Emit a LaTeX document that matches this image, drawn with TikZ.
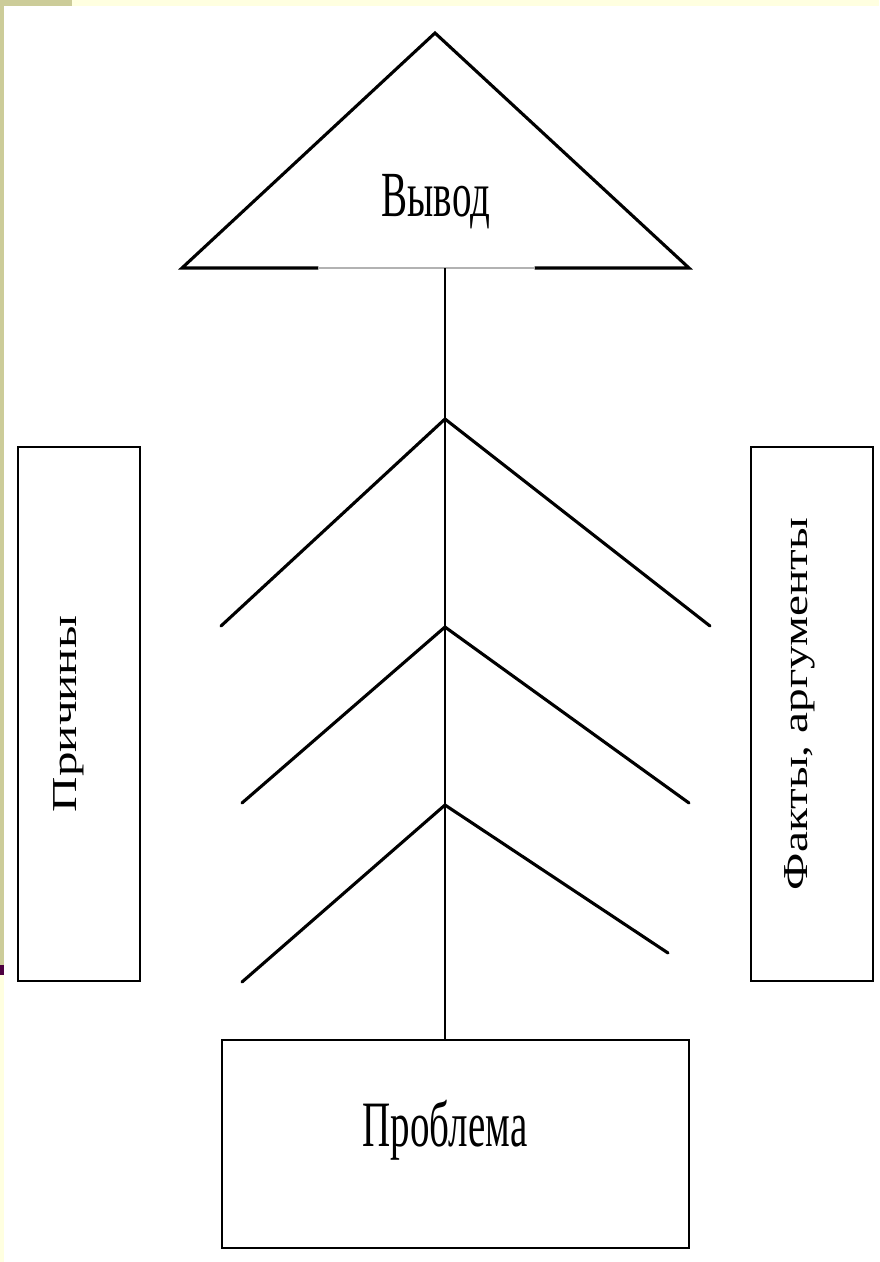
\documentclass[tikz,border=0pt]{standalone}
\usepackage{fontspec}
\setmainfont{Liberation Serif}
\usepackage{graphicx}
\definecolor{olive}{RGB}{204,204,153}
\definecolor{cream}{RGB}{255,255,224}
\definecolor{plum}{RGB}{77,0,64}
\tikzset{
    box/.style={draw=black, line width=2.9pt, inner sep=0pt},
    branch/.style={black, line width=3.1pt, line cap=round},
    word/.style={inner sep=0pt, font=\fontsize{39}{39}\selectfont},
    sideword/.style={inner sep=0pt, font=\fontsize{35}{35}\selectfont}
}
\begin{document}
\begin{tikzpicture}[x=1pt, y=-1pt]
        \useasboundingbox (0,0) rectangle (879,1262);
        % slide frame
        \fill[white] (0,0) rectangle (879,1262);
        \fill[cream] (72,0) rectangle (879,6);
        \fill[olive] (0,0) rectangle (72,6);
        \fill[olive] (0,0) rectangle (4,965);
        \fill[plum] (0,965) rectangle (4,975);
        \fill[cream] (0,975) rectangle (4,1262);
        % triangle
        \coordinate (top) at (435,33);
        \coordinate (bl) at (182,268);
        \coordinate (br) at (689,268);
        \coordinate (base) at (445,268);
        \draw[branch, line join=miter] (318,268) -- (bl) -- (top) -- (br) -- (535,268);
        \draw[gray!60, line width=2pt] (318,268) -- (535,268);
        \node[word] (conclusion) at (436,202) {\scalebox{1}[1.65]{Вывод}};
        % boxes
        \node[box, minimum width=122pt, minimum height=534pt] (causes) at (79,714) {};
        \node[box, minimum width=122pt, minimum height=534pt] (facts) at (812,714) {};
        \node[box, minimum width=467pt, minimum height=208pt] (problem) at (455.5,1144) {};
        \node[sideword] (causestext) at (69,714) {\rotatebox{90}{\scalebox{1.4}[1]{Причины}}};
        \node[sideword] (factstext) at (800,704) {\rotatebox{90}{\scalebox{1.35}[1]{Факты, аргументы}}};
        \node[word] (problemtext) at (445,1130) {\scalebox{1}[1.66]{Проблема}};
        % stem
        \draw[black, line width=2.2pt] (base) -- (base |- problem.north);
        % branches
        \foreach \ya/\xl/\yl/\xr/\yr [count=\i] in {419/221/626/710/626, 627/242/803/689/803, 805/242/982/668/953} {
            \coordinate (a\i) at (445,\ya);
            \coordinate (l\i) at (\xl,\yl);
            \coordinate (r\i) at (\xr,\yr);
            \draw[branch] (l\i) -- (a\i) -- (r\i);
        }
    \end{tikzpicture}
\end{document}
